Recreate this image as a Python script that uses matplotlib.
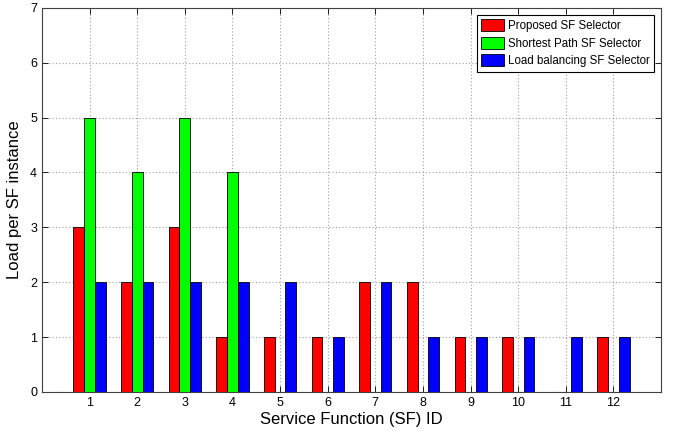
import matplotlib
matplotlib.use("Agg")
import matplotlib.pyplot as plt
import numpy as np

plt.rcParams['font.family'] = ['Liberation Sans', 'DejaVu Sans']

sf_ids = [1, 2, 3, 4, 5, 6, 7, 8, 9, 10, 11, 12]
proposed = [3, 2, 3, 1, 1, 1, 2, 2, 1, 1, 0, 1]
shortest = [5, 4, 5, 4, 0, 0, 0, 0, 0, 0, 0, 0]
balancing = [2, 2, 2, 2, 2, 1, 2, 1, 1, 1, 1, 1]
labels = ['Proposed SF Selector', 'Shortest Path SF Selector', 'Load balancing SF Selector']
colors = ['#ff0000', '#00ff00', '#0000ff']

fig = plt.figure(figsize=(6.76, 4.34), dpi=100)
ax = fig.add_axes([0.062, 0.097, 0.916, 0.885])

x = np.array(sf_ids)
w = 0.225
for i, (vals, lab, c) in enumerate(zip([proposed, shortest, balancing], labels, colors)):
    ax.bar(x + (i - 1) * w, vals, width=w, color=c, edgecolor='black', linewidth=0.6, label=lab, zorder=3)

ax.set_xlim(0, 13)
ax.set_ylim(0, 7)
ax.set_xticks(sf_ids)
ax.set_yticks(range(0, 8))
ax.tick_params(axis='both', labelsize=9, direction='in', length=4, width=0.6, top=True, right=True)
ax.grid(True, linestyle=(0, (1, 2)), color='#a0a0a0', linewidth=0.8, zorder=0)
for s in ax.spines.values():
    s.set_linewidth(0.8)
    s.set_color('#404040')
ax.set_xlabel('Service Function (SF) ID', fontsize=12, labelpad=2)
ax.set_ylabel('Load per SF instance', fontsize=12, labelpad=6)

leg = ax.legend(loc='upper right', fontsize=8.3, fancybox=False, edgecolor='black', framealpha=1,
                handlelength=2.0, handleheight=1.2, handletextpad=0.3, borderpad=0.4, labelspacing=0.4,
                borderaxespad=0.6)
leg.get_frame().set_linewidth(0.8)

fig.savefig('out.png', dpi=100)
